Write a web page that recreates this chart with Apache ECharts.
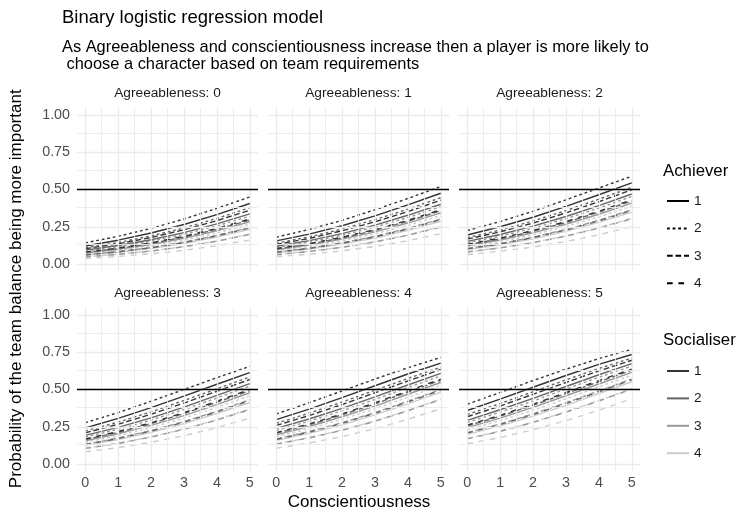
<!DOCTYPE html>
<html><head><meta charset="utf-8">
<script src="https://cdn.jsdelivr.net/npm/echarts@6/dist/echarts.min.js"></script>
<style>html,body{margin:0;padding:0;background:#fff}#c{width:741px;height:516px}</style>
</head><body><div id="c"></div>
<script>
// ---- data ----
const consc = [0,1,2,3,4,5];
const agreeLevels = [0,1,2,3,4,5];
const achieverLevels = ['1','2','3','4'];
const socialiserLevels = ['1','2','3','4'];
const yTicks = [0,0.25,0.5,0.75,1];
const xMinor = [0.5,1.5,2.5,3.5,4.5];
const yMinor = [0.125,0.375,0.625,0.875];
const refLine = 0.5;
// rows: Achiever 1..4, each with Socialiser 1..4; columns: Conscientiousness 0..5
const agree0 = [
 [0.121,0.160,0.208,0.265,0.332,0.406],[0.093,0.124,0.163,0.211,0.269,0.336],[0.074,0.099,0.131,0.172,0.223,0.283],[0.058,0.078,0.105,0.138,0.181,0.233],
 [0.142,0.186,0.239,0.302,0.373,0.450],[0.109,0.144,0.189,0.242,0.306,0.378],[0.087,0.116,0.153,0.199,0.256,0.321],[0.069,0.092,0.123,0.161,0.209,0.267],
 [0.103,0.136,0.178,0.230,0.291,0.361],[0.078,0.105,0.138,0.181,0.233,0.295],[0.062,0.083,0.111,0.147,0.192,0.246],[0.048,0.065,0.088,0.117,0.155,0.201],
 [0.080,0.107,0.142,0.186,0.239,0.302],[0.061,0.082,0.109,0.144,0.189,0.242],[0.048,0.065,0.087,0.116,0.153,0.199],[0.037,0.051,0.069,0.092,0.123,0.161]];
const agree1 = [
 [0.155,0.201,0.257,0.323,0.397,0.475],[0.119,0.157,0.204,0.261,0.327,0.401],[0.096,0.127,0.167,0.216,0.275,0.343],[0.075,0.101,0.134,0.175,0.226,0.287],
 [0.180,0.232,0.293,0.364,0.440,0.520],[0.140,0.182,0.235,0.298,0.368,0.445],[0.112,0.148,0.193,0.248,0.312,0.385],[0.089,0.118,0.156,0.203,0.259,0.325],
 [0.131,0.172,0.223,0.283,0.352,0.428],[0.101,0.134,0.175,0.226,0.287,0.357],[0.080,0.107,0.142,0.186,0.239,0.302],[0.063,0.085,0.113,0.150,0.195,0.250],
 [0.104,0.137,0.180,0.232,0.293,0.364],[0.079,0.105,0.140,0.182,0.235,0.298],[0.062,0.084,0.112,0.148,0.193,0.248],[0.049,0.066,0.089,0.118,0.156,0.203]];
const agree2 = [
 [0.195,0.250,0.314,0.387,0.465,0.545],[0.152,0.198,0.254,0.319,0.392,0.470],[0.123,0.161,0.209,0.267,0.334,0.409],[0.097,0.129,0.169,0.219,0.279,0.348],
 [0.225,0.285,0.354,0.431,0.510,0.589],[0.177,0.228,0.289,0.359,0.435,0.515],[0.143,0.187,0.241,0.304,0.375,0.453],[0.114,0.151,0.196,0.252,0.317,0.389],
 [0.167,0.216,0.275,0.343,0.418,0.498],[0.129,0.169,0.219,0.279,0.348,0.423],[0.104,0.137,0.180,0.232,0.293,0.364],[0.082,0.109,0.144,0.189,0.242,0.306],
 [0.133,0.174,0.225,0.285,0.354,0.431],[0.102,0.135,0.177,0.228,0.289,0.359],[0.081,0.108,0.143,0.187,0.241,0.304],[0.064,0.086,0.114,0.151,0.196,0.252]];
const agree3 = [
 [0.242,0.306,0.378,0.455,0.535,0.613],[0.192,0.246,0.310,0.382,0.460,0.540],[0.156,0.203,0.259,0.325,0.399,0.478],[0.125,0.164,0.213,0.271,0.339,0.413],
 [0.277,0.345,0.421,0.500,0.579,0.655],[0.221,0.281,0.350,0.426,0.505,0.584],[0.181,0.233,0.295,0.366,0.443,0.523],[0.146,0.190,0.244,0.308,0.380,0.458],
 [0.209,0.267,0.334,0.409,0.488,0.567],[0.164,0.213,0.271,0.339,0.414,0.493],[0.133,0.174,0.225,0.285,0.354,0.431],[0.105,0.140,0.182,0.235,0.298,0.368],
 [0.168,0.218,0.277,0.345,0.421,0.500],[0.130,0.171,0.221,0.281,0.350,0.426],[0.105,0.138,0.181,0.233,0.295,0.366],[0.083,0.110,0.146,0.190,0.244,0.308]];
const agree4 = [
 [0.298,0.368,0.445,0.525,0.604,0.677],[0.239,0.302,0.373,0.450,0.530,0.608],[0.196,0.252,0.317,0.389,0.468,0.547],[0.159,0.206,0.263,0.330,0.404,0.483],
 [0.336,0.411,0.490,0.570,0.646,0.715],[0.273,0.341,0.416,0.495,0.574,0.650],[0.226,0.287,0.357,0.433,0.513,0.591],[0.184,0.237,0.300,0.371,0.448,0.528],
 [0.259,0.325,0.399,0.478,0.557,0.634],[0.206,0.263,0.330,0.404,0.483,0.562],[0.168,0.218,0.277,0.345,0.421,0.500],[0.135,0.177,0.228,0.289,0.359,0.435],
 [0.211,0.269,0.336,0.411,0.490,0.570],[0.165,0.214,0.273,0.341,0.416,0.495],[0.134,0.175,0.226,0.287,0.357,0.433],[0.106,0.141,0.184,0.237,0.300,0.371]];
const agree5 = [
 [0.359,0.435,0.515,0.594,0.668,0.735],[0.293,0.364,0.440,0.520,0.599,0.673],[0.244,0.308,0.380,0.458,0.537,0.615],[0.199,0.256,0.321,0.394,0.473,0.552],
 [0.401,0.480,0.560,0.636,0.707,0.769],[0.332,0.406,0.485,0.565,0.641,0.711],[0.279,0.348,0.423,0.503,0.582,0.657],[0.230,0.291,0.361,0.438,0.518,0.596],
 [0.317,0.389,0.468,0.547,0.625,0.696],[0.256,0.321,0.394,0.473,0.552,0.630],[0.211,0.269,0.336,0.411,0.490,0.570],[0.171,0.221,0.281,0.350,0.426,0.505],
 [0.261,0.327,0.401,0.480,0.560,0.636],[0.208,0.265,0.332,0.406,0.485,0.565],[0.169,0.219,0.279,0.348,0.423,0.503],[0.136,0.178,0.230,0.291,0.361,0.438]];

// ---- styles / layout ----
const facets = [agree0, agree1, agree2, agree3, agree4, agree5];
const FONT = '"Liberation Sans", Arial, Helvetica, sans-serif';
const socColors = ['#333333','#666666','#999999','#cccccc'];
const achDashes = ['solid',[2.8,2.8],[5.7,2.8],[5.7,5.7]];
const LW = 1.4;
const panelLeft = [77, 268, 459];
const panelTop = [107.5, 307.5];
const panelW = 181, panelH = 164;
const FS_TITLE = 18.5, FS_SUB = 16.4, FS_AXT = 17, FS_TICK = 14.3, FS_STRIP = 13.7, FS_LEGT = 16.8, FS_LEG = 13.7;

const grids=[], xAxes=[], yAxes=[], series=[], titles=[];
titles.push({text:'Binary logistic regression model', left:62, top:8, padding:0,
  textStyle:{fontFamily:FONT,fontSize:FS_TITLE,fontWeight:'normal',color:'#000'}});
titles.push({text:'As Agreeableness and conscientiousness increase then a player is more likely to\n choose a character based on team requirements', left:62, top:38.5, padding:0,
  textStyle:{fontFamily:FONT,fontSize:FS_SUB,fontWeight:'normal',color:'#000',lineHeight:17}});

const xFmt = v => { const r = Math.round(v); return (Math.abs(v-r)<1e-6 && consc.includes(r)) ? String(r) : ''; };
const yFmt = v => { const t = yTicks.find(t => Math.abs(t-v)<1e-6); return t===undefined ? '' : t.toFixed(2); };

for (let f=0; f<6; f++) {
  const row = Math.floor(f/3), col = f%3;
  grids.push({left:panelLeft[col], top:panelTop[row], width:panelW, height:panelH});
  xAxes.push({type:'value', gridIndex:f, min:-0.25, max:5.25, interval:0.25,
    axisLine:{show:false}, axisTick:{show:false}, splitLine:{show:false},
    axisLabel:{show: row===1, formatter:xFmt, color:'#4d4d4d', fontSize:FS_TICK, fontFamily:FONT, margin:5}});
  yAxes.push({type:'value', gridIndex:f, min:-0.05, max:1.05, interval:0.05,
    axisLine:{show:false}, axisTick:{show:false}, splitLine:{show:false},
    axisLabel:{show: col===0, formatter:yFmt, color:'#4d4d4d', fontSize:FS_TICK, fontFamily:FONT, margin:7}});
  titles.push({text:'Agreeableness: '+agreeLevels[f], left: panelLeft[col]+panelW/2, top: panelTop[row]-21, textAlign:'center', padding:0,
    textStyle:{fontFamily:FONT,fontSize:FS_STRIP,fontWeight:'normal',color:'#1a1a1a'}});
  // panel grid lines
  const gl = [];
  consc.forEach(v => gl.push({xAxis:v, lineStyle:{width:1.3}}));
  xMinor.forEach(v => gl.push({xAxis:v, lineStyle:{width:0.9}}));
  yTicks.forEach(v => gl.push({yAxis:v, lineStyle:{width:1.3}}));
  yMinor.forEach(v => gl.push({yAxis:v, lineStyle:{width:0.9}}));
  series.push({type:'line', name:'grid'+f, xAxisIndex:f, yAxisIndex:f, data:[], z:1, silent:true,
    markLine:{silent:true, animation:false, symbol:['none','none'], label:{show:false}, emphasis:{disabled:true},
      lineStyle:{color:'#ebebeb', type:'solid'}, data:gl}});
  // model lines (light first, dark on top)
  for (let s=3; s>=0; s--) {
    for (let a=0; a<4; a++) {
      const vals = facets[f][a*4+s];
      series.push({type:'line', name:'f'+f+'a'+a+'s'+s, xAxisIndex:f, yAxisIndex:f, z:2, silent:true,
        symbol:'none', animation:false, data: consc.map((c,i)=>[c, vals[i]]),
        lineStyle:{color:socColors[s], width:LW, type:achDashes[a], cap:'butt'}});
    }
  }
  // reference line
  series.push({type:'line', name:'ref'+f, xAxisIndex:f, yAxisIndex:f, data:[], z:5, silent:true,
    markLine:{silent:true, animation:false, symbol:['none','none'], label:{show:false}, emphasis:{disabled:true},
      lineStyle:{color:'#000', type:'solid', width:LW}, data:[{yAxis:refLine}]}});
}
// overlay grid for axis titles
grids.push({left:77, top:107.5, width:563, height:364});
xAxes.push({type:'value', gridIndex:6, min:0, max:1, name:'Conscientiousness', nameLocation:'middle', nameGap:24,
  nameTextStyle:{fontFamily:FONT,fontSize:FS_AXT,color:'#000'},
  axisLine:{show:false}, axisTick:{show:false}, axisLabel:{show:false}, splitLine:{show:false}});
yAxes.push({type:'value', gridIndex:6, min:0, max:1, name:'Probability of the team balance being more important', nameLocation:'middle', nameGap:53,
  nameTextStyle:{fontFamily:FONT,fontSize:FS_AXT,color:'#000'},
  axisLine:{show:false}, axisTick:{show:false}, axisLabel:{show:false}, splitLine:{show:false}});

// legend dummy series
achieverLevels.forEach((lv,a) => series.push({type:'line', name:'Achiever '+lv, xAxisIndex:0, yAxisIndex:0, data:[], symbol:'none',
  lineStyle:{color:'#000', width:LW, type:achDashes[a], cap:'butt'}, itemStyle:{color:'#000'}}));
socialiserLevels.forEach((lv,s) => series.push({type:'line', name:'Socialiser '+lv, xAxisIndex:0, yAxisIndex:0, data:[], symbol:'none',
  lineStyle:{color:socColors[s], width:LW, type:'solid'}, itemStyle:{color:socColors[s]}}));

titles.push({text:'Achiever', left:663, top:163, padding:0, textStyle:{fontFamily:FONT,fontSize:FS_LEGT,fontWeight:'normal',color:'#000'}});
titles.push({text:'Socialiser', left:663, top:332, padding:0, textStyle:{fontFamily:FONT,fontSize:FS_LEGT,fontWeight:'normal',color:'#000'}});
const legendBase = {orient:'vertical', left:666, itemWidth:22, itemHeight:14, itemGap:13.4, selectedMode:false, padding:0,
  itemStyle:{opacity:0}, formatter: n => n.split(' ').pop(),
  textStyle:{fontFamily:FONT,fontSize:FS_LEG,color:'#1a1a1a'}};
const legends = [
  Object.assign({}, legendBase, {top:194, data: achieverLevels.map(l=>'Achiever '+l)}),
  Object.assign({}, legendBase, {top:364, data: socialiserLevels.map(l=>'Socialiser '+l)})
];

const chart = echarts.init(document.getElementById('c'), null, {renderer:'canvas'});
chart.setOption({animation:false, backgroundColor:'#fff', title:titles, legend:legends,
  grid:grids, xAxis:xAxes, yAxis:yAxes, series:series});
</script>
</body></html>
